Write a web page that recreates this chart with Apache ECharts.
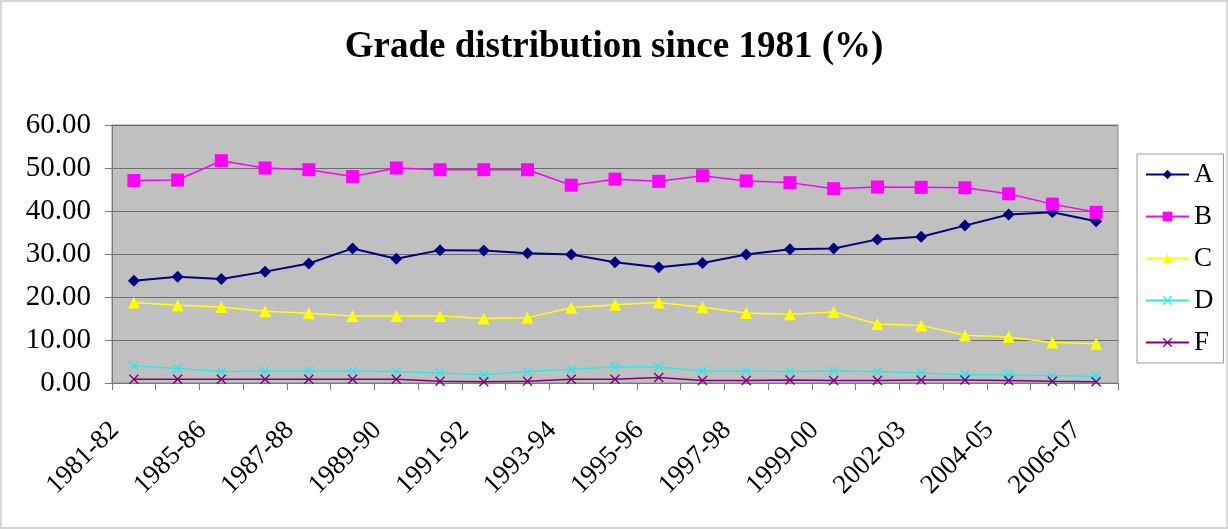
<!DOCTYPE html>
<html>
<head>
<meta charset="utf-8">
<script src="https://cdn.jsdelivr.net/npm/echarts@6/dist/echarts.min.js"></script>
<style>
  html, body { margin: 0; padding: 0; background: #fff; }
  #chart { width: 1228px; height: 529px; box-sizing: border-box; border: 2px solid #d6d6d6; }
</style>
</head>
<body>
<div id="chart"></div>
<script>
var years = ['1981-82', '1984-85', '1985-86', '1986-87', '1987-88', '1988-89', '1989-90', '1990-91',
  '1991-92', '1992-93', '1993-94', '1994-95', '1995-96', '1996-97', '1997-98', '1998-99',
  '1999-00', '2000-01', '2002-03', '2003-04', '2004-05', '2005-06', '2006-07'];
var gradeA = [23.8, 24.7, 24.2, 25.9, 27.8, 31.3, 28.9, 30.9, 30.8, 30.2, 29.9, 28.1,
  26.9, 27.9, 29.9, 31.1, 31.3, 33.4, 34.0, 36.6, 39.2, 39.7, 37.6];
var gradeB = [47.1, 47.2, 51.7, 50.0, 49.6, 48.0, 50.0, 49.6, 49.6, 49.6, 46.0, 47.4,
  46.9, 48.2, 47.0, 46.6, 45.2, 45.6, 45.5, 45.4, 44.0, 41.6, 39.7];
var gradeC = [18.7, 18.1, 17.7, 16.7, 16.2, 15.6, 15.6, 15.6, 15.0, 15.2, 17.5, 18.2,
  18.7, 17.6, 16.3, 16.0, 16.5, 13.7, 13.4, 11.1, 10.7, 9.4, 9.1];
var gradeD = [4.0, 3.4, 2.7, 2.8, 2.8, 2.8, 2.7, 2.3, 1.9, 2.7, 3.2, 3.8,
  3.7, 2.8, 2.8, 2.7, 2.8, 2.7, 2.3, 1.9, 1.9, 1.7, 1.5];
var gradeF = [0.9, 0.9, 0.9, 0.9, 0.9, 0.9, 0.9, 0.4, 0.3, 0.4, 0.9, 0.9,
  1.3, 0.6, 0.6, 0.7, 0.6, 0.6, 0.7, 0.7, 0.6, 0.4, 0.3];
var yTicks = [0, 10, 20, 30, 40, 50, 60];

var serif = '"Liberation Serif", "DejaVu Serif", serif';
var crossPath = 'path://M1,0L5,4L9,0L10,1L6,5L10,9L9,10L5,6L1,10L0,9L4,5L0,1Z';

function line(name, data, color, symbol, size, width) {
  return {
    name: name,
    type: 'line',
    data: data,
    symbol: symbol,
    symbolSize: size,
    lineStyle: { color: color, width: width },
    itemStyle: { color: color },
    emphasis: { disabled: true }
  };
}

var chart = echarts.init(document.getElementById('chart'), null, { renderer: 'canvas' });
chart.setOption({
  animation: false,
  backgroundColor: '#fff',
  title: {
    text: 'Grade distribution since 1981 (%)',
    left: 'center',
    top: 22,
    textStyle: { fontFamily: serif, fontSize: 37, fontWeight: 'bold', color: '#000' }
  },
  legend: {
    orient: 'vertical',
    left: 1135,
    top: 152,
    padding: [7, 10, 7, 8],
    itemWidth: 43,
    itemHeight: 12,
    itemGap: 15,
    borderColor: '#9a9a9a',
    borderWidth: 1,
    backgroundColor: '#fff',
    textStyle: { fontFamily: serif, fontSize: 27, color: '#000', lineHeight: 26 },
    data: ['A', 'B', 'C', 'D', 'F']
  },
  grid: {
    left: 110, right: 108, top: 123, bottom: 144,
    show: true, backgroundColor: '#c0c0c0', borderColor: '#8a8a8a', borderWidth: 1
  },
  xAxis: {
    type: 'category',
    data: years,
    boundaryGap: true,
    axisLine: { lineStyle: { color: '#7a7a7a', width: 1 } },
    axisTick: { show: true, interval: 0, length: 7, lineStyle: { color: '#7a7a7a' } },
    axisLabel: {
      interval: 1,
      rotate: 45,
      margin: 24,
      padding: [0, 27, 0, 0],
      fontFamily: serif,
      fontSize: 27,
      color: '#000'
    },
    splitLine: { show: false }
  },
  yAxis: {
    type: 'value',
    min: yTicks[0],
    max: yTicks[yTicks.length - 1],
    interval: 10,
    axisLine: { show: true, lineStyle: { color: '#7a7a7a' } },
    axisTick: { show: true, length: 7, lineStyle: { color: '#7a7a7a' } },
    axisLabel: {
      margin: 21,
      fontFamily: serif,
      fontSize: 29,
      color: '#000',
      formatter: function (v) { return v.toFixed(2); }
    },
    splitLine: { lineStyle: { color: '#6e6e6e', width: 1 } }
  },
  series: [
    line('A', gradeA, '#000080', 'diamond', 12, 2),
    line('B', gradeB, '#ff00ff', 'rect', 13, 1.5),
    line('C', gradeC, '#ffff00', 'triangle', 12, 1.5),
    line('D', gradeD, '#33e6e6', crossPath, 10, 1.5),
    line('F', gradeF, '#800080', crossPath, 10, 1.5)
  ]
});
window.addEventListener('resize', function () { chart.resize(); });
</script>
</body>
</html>
